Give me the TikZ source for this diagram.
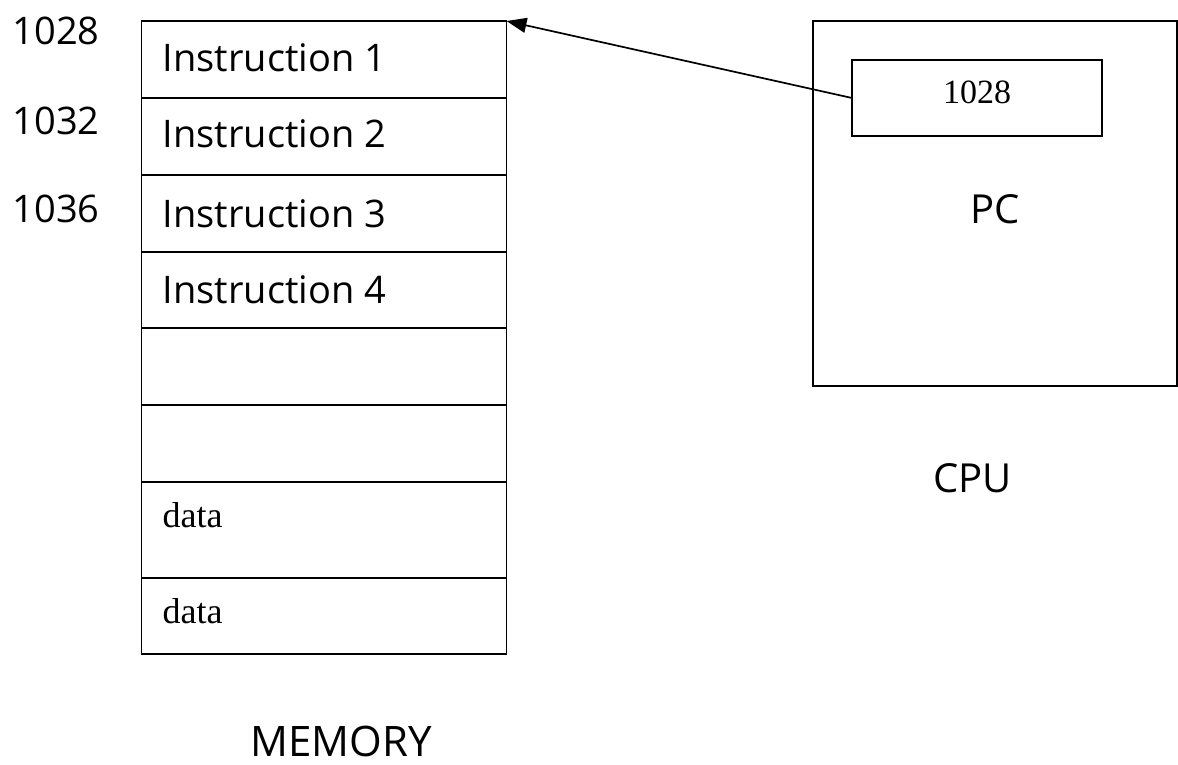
\documentclass[tikz,border=0pt]{standalone}
\usepackage{fontspec}
\setmainfont{Open Sans}
\newfontfamily\tms{Liberation Serif}
\usetikzlibrary{arrows.meta}
\begin{document}
\begin{tikzpicture}[x=1pt,y=-1pt,
  cell/.style={draw, line width=1.9pt, minimum width=365pt, inner sep=0pt, outer sep=0pt},
  lbl/.style={anchor=base west, inner sep=0pt, font=\fontsize{38}{40}\selectfont},
  tlbl/.style={anchor=base west, inner sep=0pt, font=\tms\fontsize{36}{38}\selectfont},
  big/.style={anchor=base west, inner sep=0pt, font=\fontsize{40}{42}\selectfont}]
\useasboundingbox (0,0) rectangle (1178,765);
% memory cells
\node[cell, minimum height=77pt] (m1) at (324,59.5) {};
\node[cell, minimum height=77pt] (m2) at (324,136.5) {};
\node[cell, minimum height=77pt] (m3) at (324,213.5) {};
\node[cell, minimum height=76pt] (m4) at (324,290) {};
\node[cell, minimum height=77pt] (m5) at (324,366.5) {};
\node[cell, minimum height=77pt] (m6) at (324,443.5) {};
\node[cell, minimum height=96pt] (m7) at (324,530) {};
\node[cell, minimum height=76pt] (m8) at (324,616) {};
% cell texts
\node[lbl] (t1) at (162.5,72) {Instruction 1};
\node[lbl] (t2) at (162.5,148) {Instruction 2};
\node[lbl] (t3) at (162.5,227) {Instruction 3};
\node[lbl] (t4) at (162.5,303) {Instruction 4};
\node[tlbl] (d1) at (162.5,527) {data};
\node[tlbl] (d2) at (162.5,623) {data};
% addresses
\node[lbl] (a1) at (12.5,45) {1028};
\node[lbl] (a2) at (12.5,135) {1032};
\node[lbl] (a3) at (12.5,222) {1036};
% CPU
\node[cell, minimum width=364pt, minimum height=365pt] (cpu) at (995,203.5) {};
\node[cell, minimum width=250pt, minimum height=76pt] (pcreg) at (977,98) {};
\node[anchor=base, inner sep=0pt, font=\tms\fontsize{34}{36}\selectfont] (pcval) at (977,104) {1028};
\node[big] (pc) at (970,223) {PC};
\node[big] (cpulbl) at (933,492) {CPU};
\node[anchor=base west, inner sep=0pt, font=\fontsize{42}{44}\selectfont] (mem) at (250,756) {MEMORY};
% arrow
\draw[line width=1.7pt, -{Triangle[length=20pt,width=15pt]}] (pcreg.west) -- (m1.north east);
\end{tikzpicture}
\end{document}
